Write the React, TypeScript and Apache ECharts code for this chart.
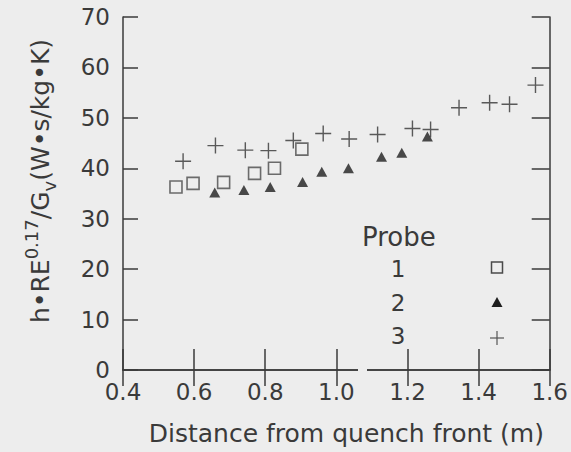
import React, { useEffect, useRef } from "react";
import * as echarts from "echarts";

// Probe 1 (open squares)
const probe1X = [0.549, 0.597, 0.683, 0.770, 0.826, 0.903];
const probe1Y = [36.3, 37.0, 37.2, 39.0, 40.0, 43.8];
// Probe 2 (filled triangles)
const probe2X = [0.658, 0.740, 0.814, 0.905, 0.959, 1.034, 1.127, 1.184, 1.256];
const probe2Y = [35.2, 35.7, 36.3, 37.3, 39.3, 40.0, 42.3, 43.1, 46.3];
// Probe 3 (crosses)
const probe3X = [0.569, 0.660, 0.744, 0.809, 0.879, 0.963, 1.036, 1.116, 1.214, 1.265, 1.345, 1.431, 1.487, 1.560];
const probe3Y = [41.4, 44.5, 43.6, 43.5, 45.5, 46.9, 45.8, 46.7, 47.9, 47.7, 52.0, 53.0, 52.7, 56.5];

const legendTitle = "Probe";
const legendLabels = ["1", "2", "3"];
const xTitle = "Distance from quench front (m)";

const BG = "#ededed";
const INK = "#3a3a3a";
const FONT = "DejaVu Sans";

const pairs = (xs: number[], ys: number[]) => xs.map((x, i) => [x, ys[i]]);

export default function App() {
  const ref = useRef<HTMLDivElement>(null);
  useEffect(() => {
    if (!ref.current) return;
    const chart = echarts.init(ref.current, null, { renderer: "svg" });
    const axisLine = { show: true, lineStyle: { color: INK, width: 1.5 } };
    const labelStyle = { fontSize: 23, color: INK, fontFamily: FONT };
    chart.setOption({
      animation: false,
      backgroundColor: BG,
      grid: { left: 123, right: 20, top: 17, bottom: 82 },
      xAxis: [
        {
          type: "value", min: 0.4, max: 1.6, interval: 0.2, position: "bottom",
          axisLine, splitLine: { show: false },
          axisTick: { show: true, inside: true, length: 21, lineStyle: { color: INK, width: 1.5 } },
          axisLabel: { ...labelStyle, margin: 10, formatter: (v: number) => v.toFixed(1) },
          name: xTitle, nameLocation: "middle", nameGap: 51,
          nameTextStyle: { fontSize: 25, color: INK, fontFamily: FONT, padding: [0, 0, 0, 20] },
        },
        {
          type: "value", min: 0.4, max: 1.6, interval: 0.2, position: "top",
          axisLine, splitLine: { show: false },
          axisTick: { show: true, inside: true, length: 16, lineStyle: { color: INK, width: 1.5 } },
          axisLabel: { show: false },
        },
      ],
      yAxis: [
        {
          type: "value", min: 0, max: 70, interval: 10, position: "left",
          axisLine, splitLine: { show: false },
          axisTick: { show: true, inside: true, length: 15, lineStyle: { color: INK, width: 1.5 } },
          axisLabel: { ...labelStyle, margin: 13 },
        },
        {
          type: "value", min: 0, max: 70, interval: 10, position: "right",
          axisLine, splitLine: { show: false },
          axisTick: { show: true, inside: true, length: 18, lineStyle: { color: INK, width: 1.5 } },
          axisLabel: { show: false },
        },
      ],
      series: [
        {
          name: "1", type: "scatter", data: pairs(probe1X, probe1Y),
          symbol: "rect", symbolSize: 12,
          itemStyle: { color: BG, borderColor: "#4a4a4a", borderWidth: 1.6 },
        },
        {
          name: "2", type: "scatter", data: pairs(probe2X, probe2Y),
          symbol: "triangle", symbolSize: [11, 10],
          itemStyle: { color: "#1e1e1e" },
        },
        {
          name: "3", type: "scatter", data: pairs(probe3X, probe3Y),
          symbol: "path://M0,8H16M8,0V16", symbolSize: 16,
          itemStyle: { color: "none", borderColor: "#333", borderWidth: 1.4 },
        },
      ],
      graphic: [
        { type: "rect", z: 100, shape: { x: 358, y: 365, width: 9, height: 10 }, style: { fill: BG } },
        {
          type: "text", x: 40, y: 181, rotation: Math.PI / 2, z: 100,
          style: {
            text: "{m|h\u2022RE}{sup|0.17}{m|/G}{sub|v}{m|(W\u2022s/kg\u2022K)}",
            align: "center", verticalAlign: "middle",
            rich: {
              m: { fontSize: 25, fontFamily: FONT, fill: INK, lineHeight: 36 },
              sup: { fontSize: 18, fontFamily: FONT, fill: INK, verticalAlign: "top", lineHeight: 20 },
              sub: { fontSize: 18, fontFamily: FONT, fill: INK, verticalAlign: "bottom", lineHeight: 20 },
            },
          },
        },
        { type: "text", x: 362, y: 237, z: 100, style: { text: legendTitle, fontSize: 26, fontFamily: FONT, fill: INK, align: "left", verticalAlign: "middle" } },
        { type: "text", x: 398, y: 269, z: 100, style: { text: legendLabels[0], fontSize: 23, fontFamily: FONT, fill: INK, align: "center", verticalAlign: "middle" } },
        { type: "text", x: 398, y: 303, z: 100, style: { text: legendLabels[1], fontSize: 23, fontFamily: FONT, fill: INK, align: "center", verticalAlign: "middle" } },
        { type: "text", x: 398, y: 336, z: 100, style: { text: legendLabels[2], fontSize: 23, fontFamily: FONT, fill: INK, align: "center", verticalAlign: "middle" } },
        { type: "rect", z: 100, shape: { x: 491.5, y: 262, width: 11, height: 11 }, style: { fill: BG, stroke: "#4a4a4a", lineWidth: 1.5 } },
        { type: "polygon", z: 100, shape: { points: [[497, 297], [502.5, 307], [491.5, 307]] }, style: { fill: "#1e1e1e" } },
        { type: "line", z: 100, shape: { x1: 490, y1: 338, x2: 504, y2: 338 }, style: { stroke: "#555", lineWidth: 1.2 } },
        { type: "line", z: 100, shape: { x1: 497, y1: 331, x2: 497, y2: 345 }, style: { stroke: "#555", lineWidth: 1.2 } },
      ],
    });
    return () => chart.dispose();
  }, []);
  return (
    <div
      ref={ref}
      style={{ position: "absolute", left: 0, top: 0, width: 571, height: 452, background: BG }}
    />
  );
}
